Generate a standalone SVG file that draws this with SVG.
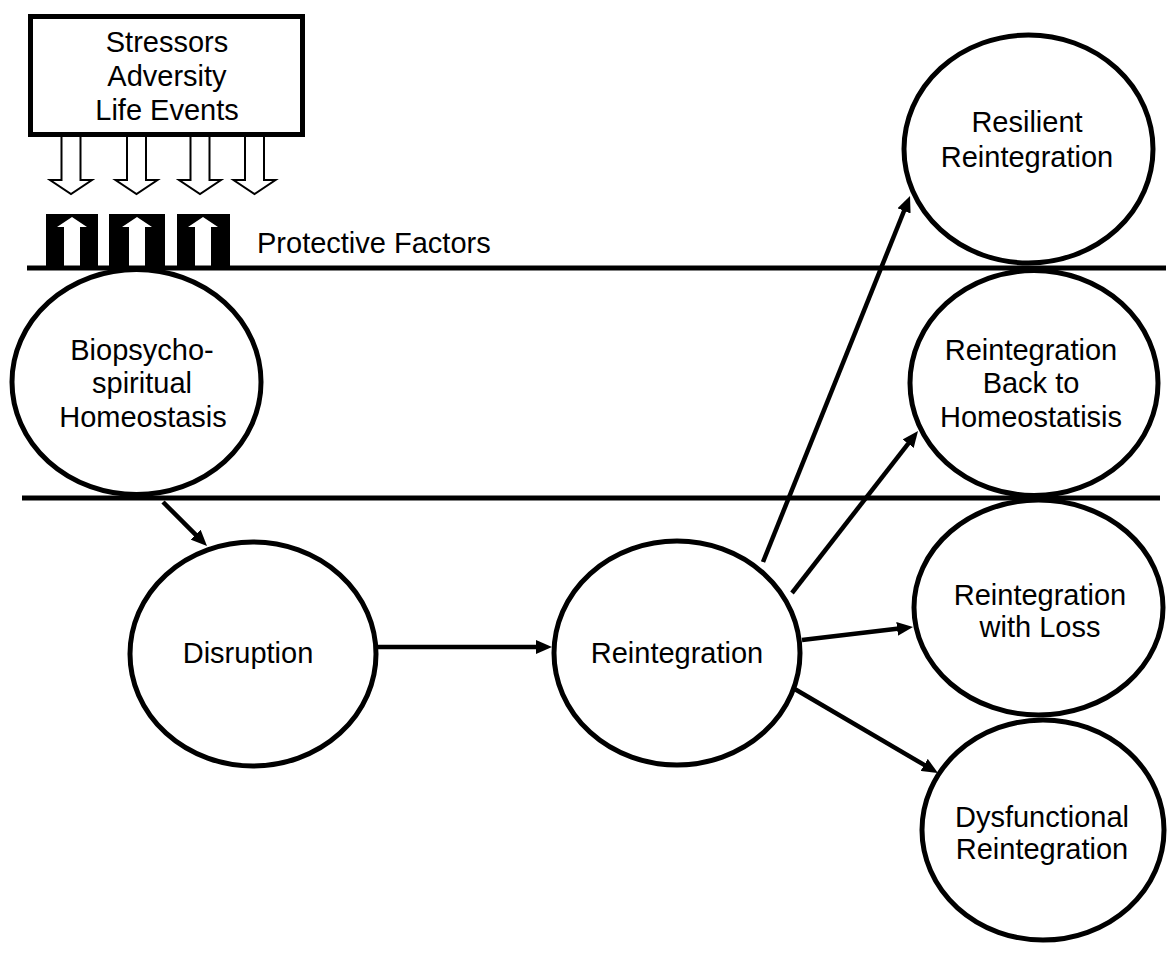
<svg xmlns="http://www.w3.org/2000/svg" width="1168" height="960" viewBox="0 0 1168 960">
<style>
.node ellipse{fill:#fff;stroke:#000;stroke-width:5}
.t{font-family:"Liberation Sans",Arial,sans-serif;font-size:29px;fill:#000;text-anchor:middle}
.tl{font-family:"Liberation Sans",Arial,sans-serif;font-size:29px;fill:#000}
.conn line{stroke:#000;stroke-width:4.5}
.hollow{fill:#fff;stroke:#000;stroke-width:2;stroke-linejoin:miter}
.band{stroke:#000;stroke-width:5}
</style>
<defs>
<marker id="ah" markerUnits="userSpaceOnUse" markerWidth="16" markerHeight="14" refX="2" refY="7" orient="auto">
<path d="M0,0 L16,7 L0,14 Z" fill="#000"/>
</marker>
</defs>
<rect width="1168" height="960" fill="#fff"/>

<g id="stressor-arrows">
<polygon class="hollow" points="61.5,136 80.5,136 80.5,180 92,180 71,194 50,180 61.5,180"/>
<polygon class="hollow" points="127,136 146,136 146,180 157.5,180 136.5,194 115.5,180 127,180"/>
<polygon class="hollow" points="190.5,136 209.5,136 209.5,180 221,180 200,194 179,180 190.5,180"/>
<polygon class="hollow" points="245,136 264,136 264,180 275.5,180 254.5,194 233.5,180 245,180"/>
</g>

<g id="stressors">
<rect x="30.5" y="16.5" width="272" height="118" fill="#fff" stroke="#000" stroke-width="5"/>
<text class="t" x="167" y="52">Stressors</text>
<text class="t" x="167" y="86">Adversity</text>
<text class="t" x="167" y="120">Life Events</text>
</g>

<g id="protective-factors">
<rect x="46" y="214" width="52" height="54" fill="#000"/>
<rect x="109" y="214" width="56" height="54" fill="#000"/>
<rect x="177" y="214" width="53" height="54" fill="#000"/>
<polygon fill="#fff" points="72,217 87,227 80,227 80,268 64,268 64,227 57,227"/>
<polygon fill="#fff" points="137,217 152,227 145,227 145,268 129,268 129,227 122,227"/>
<polygon fill="#fff" points="203,217 218,227 211,227 211,268 195,268 195,227 188,227"/>
<text class="tl" x="257" y="253">Protective Factors</text>
</g>

<g id="bands">
<line class="band" x1="27" y1="268" x2="1166" y2="268"/>
<line class="band" x1="22" y1="498" x2="1160" y2="498"/>
</g>

<g id="homeostasis" class="node">
<ellipse cx="136.5" cy="382" rx="124.5" ry="112.5"/>
<text class="t" x="142" y="360">Biopsycho-</text>
<text class="t" x="142" y="393">spiritual</text>
<text class="t" x="143" y="427">Homeostasis</text>
</g>

<g id="disruption" class="node">
<ellipse cx="253" cy="654" rx="123" ry="112"/>
<text class="t" x="248" y="663">Disruption</text>
</g>

<g id="reintegration" class="node">
<ellipse cx="677" cy="653" rx="123" ry="112"/>
<text class="t" x="677" y="663">Reintegration</text>
</g>

<g id="resilient" class="node">
<ellipse cx="1028.5" cy="149" rx="124.5" ry="114"/>
<text class="t" x="1027" y="132">Resilient</text>
<text class="t" x="1027" y="167">Reintegration</text>
</g>

<g id="back-to-homeostasis" class="node">
<ellipse cx="1034" cy="383" rx="124" ry="112.5"/>
<text class="t" x="1031" y="360">Reintegration</text>
<text class="t" x="1031" y="393">Back to</text>
<text class="t" x="1031" y="427">Homeostatisis</text>
</g>

<g id="with-loss" class="node">
<ellipse cx="1038.5" cy="607.5" rx="124.5" ry="107.5"/>
<text class="t" x="1040" y="605">Reintegration</text>
<text class="t" x="1040" y="637">with Loss</text>
</g>

<g id="dysfunctional" class="node">
<ellipse cx="1043" cy="830" rx="121" ry="110"/>
<text class="t" x="1042" y="827">Dysfunctional</text>
<text class="t" x="1042" y="859">Reintegration</text>
</g>

<g id="connectors" class="conn">
<line x1="163" y1="502" x2="197.1" y2="536.1" marker-end="url(#ah)"/>
<line x1="378" y1="647" x2="538" y2="647" marker-end="url(#ah)"/>
<line x1="763" y1="562" x2="904.8" y2="209" marker-end="url(#ah)"/>
<line x1="792" y1="593" x2="909.4" y2="442.1" marker-end="url(#ah)"/>
<line x1="802" y1="640" x2="899.1" y2="628.6" marker-end="url(#ah)"/>
<line x1="793" y1="688" x2="925.9" y2="765.9" marker-end="url(#ah)"/>
</g>
</svg>
